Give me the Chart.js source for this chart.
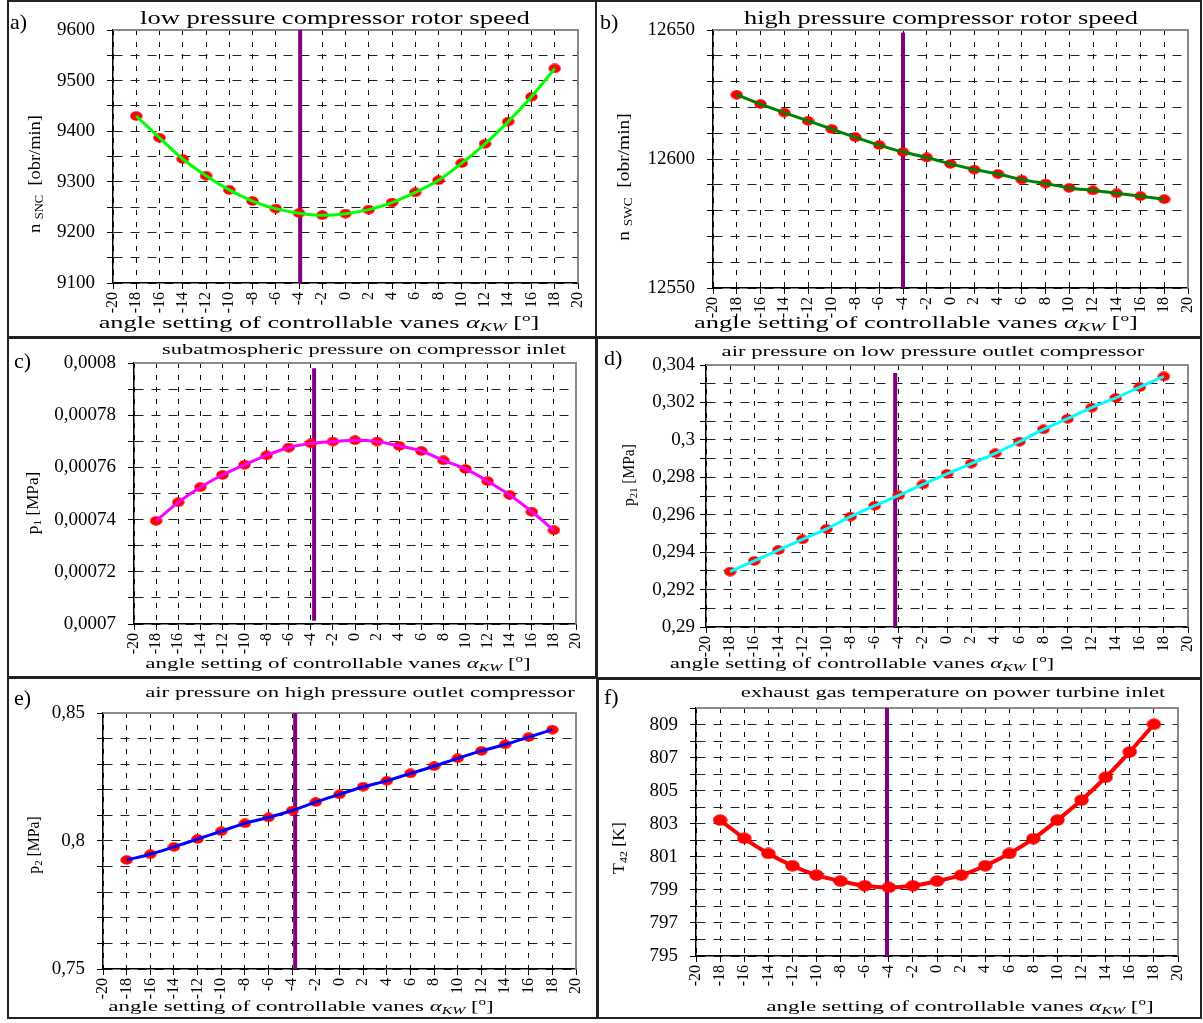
<!DOCTYPE html>
<html>
<head>
<meta charset="utf-8">
<script src="https://cdn.jsdelivr.net/npm/chart.js@4.4.1/dist/chart.umd.min.js"></script>
<style>
  html, body { margin:0; padding:0; background:#fff; }
  body { width:1203px; height:1023px; position:relative; overflow:hidden; font-family:'Liberation Serif','Times New Roman',serif; color:#000; }
  .box { position:absolute; border:2px solid #222; box-sizing:border-box; }
  .cv { position:absolute; }
  .txt { position:absolute; white-space:nowrap; line-height:1; z-index:5; transform-origin:50% 50%; }
  .lbl { position:absolute; white-space:nowrap; line-height:1; z-index:5; font-size:22px; }
  sub { font-size:68%; vertical-align:-0.3em; line-height:0; }
  sup { font-size:65%; vertical-align:0.55em; line-height:0; }
  i { font-style:italic; }
</style>
</head>
<body>
<script>
// ---------------- DATA ----------------
const angles = [-18,-16,-14,-12,-10,-8,-6,-4,-2,0,2,4,6,8,10,12,14,16,18];
const lpRotorSpeed = [9430,9387,9345,9312,9284,9262,9247,9238,9234,9237,9245,9259,9279,9303,9337,9375,9419,9468,9524];
const hpRotorSpeed = [12624.9,12621.3,12618.0,12614.8,12611.6,12608.4,12605.4,12602.7,12600.6,12598.1,12595.9,12594.2,12592.0,12590.5,12588.8,12587.8,12586.7,12585.6,12584.4];
const inletPressure = [0.0007395,0.0007466,0.0007524,0.0007571,0.0007610,0.0007646,0.0007676,0.0007692,0.0007699,0.0007704,0.0007699,0.0007682,0.0007663,0.0007627,0.0007594,0.0007547,0.0007494,0.0007430,0.0007359];
const lpOutletPressure = [0.29296,0.29353,0.29411,0.29468,0.29524,0.29590,0.29648,0.29703,0.29762,0.29818,0.29873,0.29928,0.29990,0.30056,0.30113,0.30172,0.30224,0.30282,0.30339];
const hpOutletPressure = [0.7926,0.7948,0.7977,0.8008,0.8038,0.8069,0.8092,0.8119,0.8152,0.8182,0.8212,0.8235,0.8264,0.8292,0.8323,0.8352,0.8377,0.8406,0.8435];
const exhaustTemp = [803.22,802.12,801.20,800.46,799.89,799.53,799.25,799.15,799.25,799.53,799.89,800.46,801.20,802.10,803.22,804.43,805.81,807.35,809.02];

// vertical marker (nominal -4 deg setting) per panel
const markerAngles = [-3.9,-4,-3.7,-4.3,-3.75,-4.15];
const markerBottom = [9100,12550,0.0007012,0.29,0.75,795];
const markerTop = [9600,12649,0.000798,0.30357,0.85,810];

// axis ranges
const yMins = [9100,12550,0.0007,0.29,0.75,795];
const yMaxs = [9600,12650,0.0008,0.304,0.85,810];
const yGridSteps = [50,10,0.00001,0.001,0.01,1];
const yLabelSteps = [100,50,0.00002,0.002,0.05,2];
const xMin = -20, xMax = 20, xStep = 2;

const titles = [
  'low pressure compressor rotor speed',
  'high pressure compressor rotor speed',
  'subatmospheric pressure on compressor inlet',
  'air pressure on low pressure outlet compressor',
  'air pressure on high pressure outlet compressor',
  'exhaust gas temperature on power turbine inlet'
];
const yTitles = [
  'n <sub>SNC</sub> &nbsp;[obr/min]',
  'n <sub>SWC</sub> &nbsp;[obr/min]',
  'p<sub>1</sub> [MPa]',
  'p<sub>21</sub> [MPa]',
  'p<sub>2</sub> [MPa]',
  'T<sub>42</sub> [K]'
];
const xTitle = 'angle setting of controllable vanes <i>α</i><sub><i>KW</i></sub> [<sup>o</sup>]';
const panelLabels = ['a)','b)','c)','d)','e)','f)'];
const seriesList = [lpRotorSpeed,hpRotorSpeed,inletPressure,lpOutletPressure,hpOutletPressure,exhaustTemp];

// ---------------- LAYOUT / STYLE ----------------
const layout = [
  {L:113,R:578,T:30,B:283, color:'#00ff00', pad:12, title:[335,18,390,18], yt:[34,174,118,17], xt:[319,322,441,17], lab:[10,22]},
  {L:713,R:1188,T:30,B:288, color:'#008000', pad:12, title:[941,18,394,18], yt:[623,177,127,17], xt:[916,322,444,17], lab:[600,22]},
  {L:134,R:576,T:363,B:624, color:'#ff00ff', pad:12, title:[364,350,404,14], yt:[33,503,62,16], xt:[338,663,385,15], lab:[14,361]},
  {L:706,R:1188,T:365,B:627, color:'#00ffff', pad:5, title:[933,352,422,14], yt:[629,475,62,16], xt:[862,663,384,15], lab:[604,358]},
  {L:103,R:576,T:713,B:969, color:'#0000ff', pad:12, title:[360,693,429,14], yt:[34,845,57,16], xt:[301,1006,385,15], lab:[14,698]},
  {L:696,R:1178,T:708,B:956, color:'#ff0000', pad:12, title:[953,693,425,14], yt:[619,848,52,16], xt:[960,1006,387,15], lab:[604,697]}
];
const boxes = [
  [7,0,590,338],[595,0,607,338],
  [7,337,590,341],[596,337,606,342],
  [7,677,591,342],[597,678,605,341]
];

Chart.defaults.font.family = "'Liberation Serif','Times New Roman',serif";
Chart.defaults.color = '#000';

function ellipseImg(w,h,color){
  const c=document.createElement('canvas'); c.width=w; c.height=h;
  const g=c.getContext('2d'); g.fillStyle=color; g.beginPath();
  g.ellipse(w/2,h/2,w/2-0.3,h/2-0.3,0,0,Math.PI*2); g.fill(); return c;
}
const dotSmall = ellipseImg(13,10,'#ff0000');
const dotBig = ellipseImg(15,12,'#ff0000');

function fmt(v){ return parseFloat(v.toPrecision(10)).toString().replace('.',','); }

const framePlugin = {
  id:'frame',
  beforeDatasetsDraw(chart){
    const {ctx, chartArea:a} = chart;
    ctx.save(); ctx.strokeStyle='#8a8a8a'; ctx.lineWidth=2; ctx.setLineDash([]);
    ctx.beginPath(); ctx.moveTo(a.left,a.top); ctx.lineTo(a.right,a.top); ctx.lineTo(a.right,a.bottom); ctx.stroke();
    ctx.restore();
  }
};

boxes.forEach(b=>{
  const d=document.createElement('div'); d.className='box';
  Object.assign(d.style,{left:b[0]+'px',top:b[1]+'px',width:b[2]+'px',height:b[3]+'px'});
  document.body.appendChild(d);
});

const fitItems = [];
function addText(html, cx, cy, target, size, rotated){
  const d=document.createElement('div'); d.className='txt'; d.innerHTML=html;
  d.style.fontSize=size+'px'; d.style.left=cx+'px'; d.style.top=cy+'px';
  document.body.appendChild(d);
  fitItems.push({el:d,target,rotated});
}

const LEFTW=100, RIGHTP=14, TOPP=14, XAXH=34;

layout.forEach((p,i)=>{
  const W = p.R - p.L + LEFTW + RIGHTP;
  const H = p.B - p.T + TOPP + XAXH;
  const cv=document.createElement('canvas'); cv.className='cv';
  cv.width=W; cv.height=H;
  Object.assign(cv.style,{left:(p.L-LEFTW)+'px',top:(p.T-TOPP)+'px',width:W+'px',height:H+'px'});
  document.body.appendChild(cv);

  const vals = seriesList[i];
  const pts = angles.map((a,k)=>({x:a,y:vals[k]}));
  const isF = (i===5);
  const datasets = [];
  datasets.push({ data:[{x:markerAngles[i],y:markerBottom[i]},{x:markerAngles[i],y:markerTop[i]}],
    showLine:true, borderColor:'#800080', borderWidth:4, pointRadius:0, order:3 });
  if (isF){
    datasets.push({ data:pts, showLine:true, borderColor:p.color, borderWidth:4, tension:0.3, cubicInterpolationMode:'monotone',
      pointStyle:dotBig, pointRadius:6, order:0 });
  } else {
    datasets.push({ data:pts, showLine:false, pointStyle:dotSmall, pointRadius:5, order:1 });
    datasets.push({ data:pts, showLine:true, borderColor:p.color, borderWidth:3, tension:0.4, cubicInterpolationMode:'monotone',
      pointRadius:0, order:0 });
  }
  const base=yMins[i], lstep=yLabelSteps[i];
  new Chart(cv,{
    type:'scatter',
    data:{datasets},
    plugins:[framePlugin],
    options:{
      responsive:false, animation:false, devicePixelRatio:1,
      layout:{padding:{left:0,right:RIGHTP,top:TOPP,bottom:0}},
      plugins:{legend:{display:false}, tooltip:{enabled:false}},
      scales:{
        x:{ type:'linear', min:xMin, max:xMax,
            ticks:{stepSize:xStep, autoSkip:false, maxRotation:90, minRotation:90, padding:3, font:{size:16}, color:'#000', maxTicksLimit:100},
            grid:{color:'#000', lineWidth:1, tickLength:6, tickColor:'#000', tickBorderDash:[], borderDash:[5,7]},
            border:{color:'#000', width:1.5, dash:[5,7]},
            afterFit(s){ s.height = XAXH; s.paddingLeft=0; s.paddingRight=0; s.paddingTop=0; s.paddingBottom=0; }
        },
        y:{ type:'linear', min:yMins[i], max:yMaxs[i],
            ticks:{stepSize:yGridSteps[i], autoSkip:false, padding:p.pad, font:{size:19}, color:'#000', maxTicksLimit:100,
              callback(v){ const k=(v-base)/lstep; return Math.abs(k-Math.round(k))<1e-6 ? fmt(v) : ''; } },
            grid:{color:'#222', lineWidth:1, tickLength:6, tickColor:'#000', tickBorderDash:[], borderDash:[9,8]},
            border:{color:'#000', width:1.5, dash:[9,8]},
            afterFit(s){ s.width = LEFTW; s.paddingLeft=0; s.paddingRight=0; s.paddingTop=0; s.paddingBottom=0; }
        }
      }
    }
  });

  addText(titles[i], p.title[0], p.title[1], p.title[2], p.title[3], false);
  addText(yTitles[i], p.yt[0], p.yt[1], p.yt[2], p.yt[3], true);
  addText(xTitle, p.xt[0], p.xt[1], p.xt[2], p.xt[3], false);
  const l=document.createElement('div'); l.className='lbl'; l.textContent=panelLabels[i];
  l.style.left=p.lab[0]+'px'; l.style.top=(p.lab[1]-11)+'px';
  document.body.appendChild(l);
});

function fitAll(){
  fitItems.forEach(it=>{
    const w = it.el.offsetWidth || 1;
    const s = it.target / w;
    it.el.style.transform = it.rotated
      ? 'translate(-50%,-50%) rotate(-90deg) scaleX('+s.toFixed(3)+')'
      : 'translate(-50%,-50%) scaleX('+s.toFixed(3)+')';
  });
}
fitAll();
if (document.fonts && document.fonts.ready) document.fonts.ready.then(fitAll);
</script>
</body>
</html>
